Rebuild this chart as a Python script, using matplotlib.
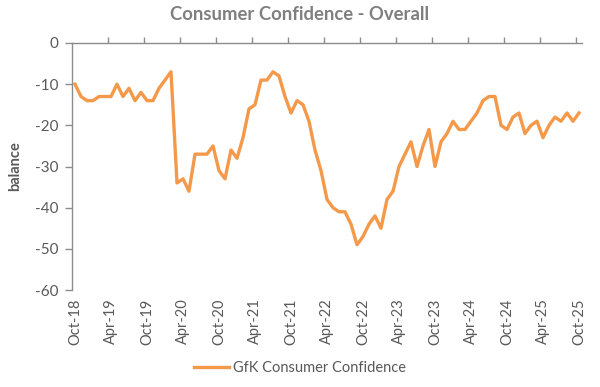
import matplotlib
matplotlib.use("Agg")
import matplotlib.pyplot as plt
import numpy as np

months = ["Oct-18", "Nov-18", "Dec-18",
          "Jan-19", "Feb-19", "Mar-19", "Apr-19", "May-19", "Jun-19", "Jul-19", "Aug-19", "Sep-19", "Oct-19", "Nov-19", "Dec-19",
          "Jan-20", "Feb-20", "Mar-20", "Apr-20", "May-20", "Jun-20", "Jul-20", "Aug-20", "Sep-20", "Oct-20", "Nov-20", "Dec-20",
          "Jan-21", "Feb-21", "Mar-21", "Apr-21", "May-21", "Jun-21", "Jul-21", "Aug-21", "Sep-21", "Oct-21", "Nov-21", "Dec-21",
          "Jan-22", "Feb-22", "Mar-22", "Apr-22", "May-22", "Jun-22", "Jul-22", "Aug-22", "Sep-22", "Oct-22", "Nov-22", "Dec-22",
          "Jan-23", "Feb-23", "Mar-23", "Apr-23", "May-23", "Jun-23", "Jul-23", "Aug-23", "Sep-23", "Oct-23", "Nov-23", "Dec-23",
          "Jan-24", "Feb-24", "Mar-24", "Apr-24", "May-24", "Jun-24", "Jul-24", "Aug-24", "Sep-24", "Oct-24", "Nov-24", "Dec-24",
          "Jan-25", "Feb-25", "Mar-25", "Apr-25", "May-25", "Jun-25", "Jul-25", "Aug-25", "Sep-25", "Oct-25"]

confidence = [-10, -13, -14,
              -14, -13, -13, -13, -10, -13, -11, -14, -12, -14, -14, -11,
              -9, -7, -34, -33, -36, -27, -27, -27, -25, -31, -33, -26,
              -28, -23, -16, -15, -9, -9, -7, -8, -13, -17, -14, -15,
              -19, -26, -31, -38, -40, -41, -41, -44, -49, -47, -44, -42,
              -45, -38, -36, -30, -27, -24, -30, -25, -21, -30, -24, -22,
              -19, -21, -21, -19, -17, -14, -13, -13, -20, -21, -18, -17,
              -22, -20, -19, -23, -20, -18, -19, -17, -19, -17]

series_name = "GfK Consumer Confidence"
title = "Consumer Confidence - Overall"
y_label = "balance"

plt.rcParams['font.family'] = ['Lato', 'DejaVu Sans']
plt.rcParams['axes.unicode_minus'] = False

fig = plt.figure(figsize=(6.0, 3.87), dpi=100)
ax = fig.add_axes([0.12, 0.2506, 0.85, 0.6383])

x = np.arange(len(confidence))
ax.plot(x, confidence, color="#F4994A", linewidth=2.4, solid_joinstyle="round",
        label=series_name)

ax.set_xlim(-0.5, len(confidence) - 0.5)
ax.set_ylim(-60, 0)
ax.set_yticks(np.arange(-60, 1, 10))

axis_col = "#8c8c8c"
text_col = "#595959"

label_idx = list(range(0, len(months), 6))
ax.set_xticks(label_idx)
ax.set_xticklabels([months[i] for i in label_idx], rotation=90)
ax.set_xticks(np.arange(5.5, len(months) - 0.5, 6), minor=True)
ax.tick_params(axis="x", which="major", length=0, pad=6, labelsize=10.5, labelcolor=text_col)
ax.tick_params(axis="x", which="minor", top=True, bottom=False, direction="out",
               length=4, color=axis_col, width=1)
ax.tick_params(axis="y", which="major", direction="out", length=5, color=axis_col,
               width=1, labelsize=11, labelcolor=text_col, pad=5)

for s in ["right", "bottom"]:
    ax.spines[s].set_visible(False)
for s in ["left", "top"]:
    ax.spines[s].set_color(axis_col)
    ax.spines[s].set_linewidth(1)

ax.set_ylabel(y_label, fontsize=10.5, fontweight="bold", color=text_col)
ax.yaxis.set_label_coords(-0.098, 0.5)

fig.suptitle(title, x=0.5, y=0.985, fontsize=13.3, fontweight="bold", color="#7f7f7f")

leg = fig.legend(loc="center", bbox_to_anchor=(0.5, 0.048), frameon=False,
                 fontsize=10.5, handlelength=2.4, handletextpad=0.3)
for t in leg.get_texts():
    t.set_color(text_col)

fig.savefig("out.png", dpi=100, facecolor="white")
